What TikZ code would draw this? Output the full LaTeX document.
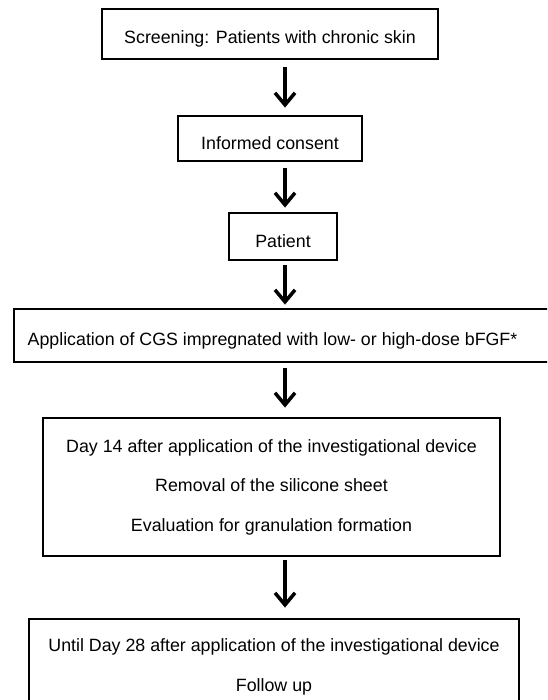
\documentclass[tikz,border=0pt]{standalone}
\usepackage{fontspec}
\setmainfont{Liberation Sans}
\usetikzlibrary{arrows.meta}

\begin{document}
\begin{tikzpicture}[x=1pt,y=-1pt,
  box/.style={draw,line width=2.8pt,inner sep=0pt,align=center,
    font=\fontsize{17.8}{39.5}\selectfont},
  single/.style={text height=23pt},
  arr/.style={line width=3.5pt,-{Straight Barb[length=12pt,width=20pt]}}]

\useasboundingbox (0,0) rectangle (547,700);
\clip (0,0) rectangle (547,700);

\coordinate (axis) at (285,0);

% Steps
\node[box,single,minimum width=336pt,minimum height=50pt] (scr) at (270,34) {Screening: Patients with chronic skin};
\node[box,single,minimum width=184pt,minimum height=45pt] (cons) at (270,138.5) {Informed consent};
\node[box,single,minimum width=108pt,minimum height=47pt] (pat) at (283,236.5) {Patient};
\node[box,single,minimum width=556pt,minimum height=53pt] (app) at (292,335.5) {\mbox{Application of CGS impregnated with low- or high-dose bFGF*\hspace{39pt}}};
\node[box,minimum width=457pt,minimum height=138pt] (day) at (271.5,487) {Day 14 after application of the investigational device\\Removal of the silicone sheet\\Evaluation for granulation formation};
\node[box,minimum width=490pt,minimum height=96pt] (fol) at (274,667) {Until Day 28 after application of the investigational device\\Follow up};

% Arrows
\draw[arr] ([yshift=-7pt]scr.south -| axis) -- ([yshift=7pt]cons.north -| axis);
\draw[arr] ([yshift=-6pt]cons.south -| axis) -- ([yshift=4pt]pat.north -| axis);
\draw[arr] ([yshift=-4pt]pat.south -| axis) -- ([yshift=3pt]app.north -| axis);
\draw[arr] ([yshift=-5pt]app.south -| axis) -- ([yshift=9pt]day.north -| axis);
\draw[arr] ([yshift=-3pt]day.south -| axis) -- ([yshift=10pt]fol.north -| axis);

\end{tikzpicture}
\end{document}
